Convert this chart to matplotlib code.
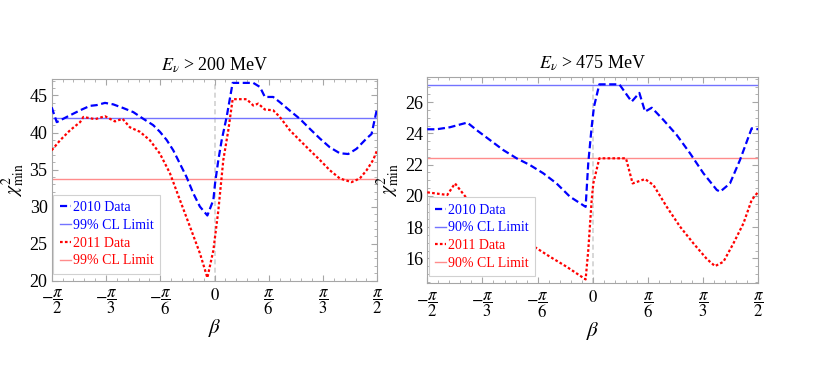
import numpy as np
import matplotlib
matplotlib.use("Agg")
import matplotlib.pyplot as plt
from matplotlib.lines import Line2D
from matplotlib.ticker import MultipleLocator

plt.rcParams["font.family"] = ["Liberation Serif", "DejaVu Serif"]
plt.rcParams["mathtext.fontset"] = "stix"

PI = np.pi

# ---- E_nu > 200 MeV (left) ----
b10_200 = [-1.571, -1.522, -1.426, -1.297, -1.201, -1.137, -1.057, -0.977, -0.880, -0.783,
           -0.687, -0.592, -0.527, -0.462, -0.398, -0.334, -0.270, -0.205, -0.141, -0.069,
           -0.011, 0.005, 0.037, 0.069, 0.117, 0.175, 0.374, 0.438, 0.486, 0.566, 0.630,
           0.727, 0.823, 0.920, 1.016, 1.113, 1.209, 1.290, 1.370, 1.467, 1.515, 1.571]
c10_200 = [43.4, 41.4, 42.1, 43.0, 43.6, 43.7, 44.0, 43.8, 43.3, 42.75,
           41.85, 41.0, 40.1, 39.0, 37.6, 35.8, 34.0, 31.8, 30.0, 28.8,
           30.9, 33.1, 36.3, 38.95, 42.1, 46.7, 46.7, 46.15, 44.8, 44.8, 44.1,
           42.95, 41.85, 40.5, 39.2, 38.0, 37.2, 37.1, 37.8, 39.2, 39.8, 43.4]

b11_200 = [-1.571, -1.490, -1.394, -1.297, -1.265, -1.152, -1.057, -0.961, -0.887, -0.816,
           -0.720, -0.623, -0.527, -0.430, -0.334, -0.237, -0.141, -0.069, -0.011, 0.037,
           0.085, 0.133, 0.175, 0.310, 0.374, 0.422, 0.486, 0.566, 0.630, 0.727, 0.823,
           0.920, 1.016, 1.113, 1.209, 1.322, 1.402, 1.467, 1.531, 1.571]
c11_200 = [37.6, 38.95, 40.3, 41.4, 42.1, 41.8, 42.2, 41.5, 41.85, 40.7,
           40.1, 38.95, 37.15, 34.5, 30.9, 27.3, 23.7, 20.4, 24.1, 29.5,
           36.3, 40.3, 44.5, 44.5, 43.65, 43.9, 43.1, 43.0, 42.1, 40.3, 38.95,
           37.6, 36.3, 34.9, 33.8, 33.3, 33.8, 34.9, 36.3, 37.7]

cl10_200 = 41.9
cl11_200 = 33.7

# ---- E_nu > 475 MeV (right) ----
b10_475 = [-1.571, -1.482, -1.356, -1.191, -1.103, -0.976, -0.850, -0.723, -0.597, -0.470,
           -0.344, -0.217, -0.068, -0.043, -0.011, 0.011, 0.062, 0.252, 0.369, 0.442,
           0.496, 0.560, 0.670, 0.797, 0.923, 1.050, 1.177, 1.209, 1.302, 1.397,
           1.508, 1.571]
c10_475 = [24.27, 24.27, 24.4, 24.7, 24.22, 23.58, 22.94, 22.41, 21.98, 21.45,
           20.8, 19.95, 19.3, 22.1, 24.4, 25.7, 27.15, 27.15, 26.04, 26.6,
           25.4, 25.65, 24.87, 23.9, 22.73, 21.45, 20.38, 20.27, 20.8, 22.3,
           24.33, 24.27]

b11_475 = [-1.571, -1.381, -1.308, -1.197, -1.103, -0.913, -0.723, -0.580, -0.406, -0.248,
           -0.068, -0.043, -0.011, 0.005, 0.062, 0.315, 0.378, 0.496, 0.575, 0.702,
           0.828, 0.955, 1.082, 1.160, 1.240, 1.335, 1.430, 1.508, 1.571]
c11_475 = [20.23, 20.06, 20.8, 19.85, 19.5, 18.67, 17.7, 16.85, 16.1, 15.46,
           14.65, 16.5, 19.7, 20.8, 22.41, 22.41, 20.8, 21.08, 20.7, 19.3,
           18.03, 16.96, 15.96, 15.5, 15.78, 16.96, 18.24, 19.74, 20.27]

cl10_475 = 27.1
cl11_475 = 22.41

x_ticks = [-PI / 2, -PI / 3, -PI / 6, 0, PI / 6, PI / 3, PI / 2]
x_labels = [r"$-\genfrac{}{}{0.6}{0}{\pi}{2}$", r"$-\genfrac{}{}{0.6}{0}{\pi}{3}$",
            r"$-\genfrac{}{}{0.6}{0}{\pi}{6}$", r"$0$",
            r"$\genfrac{}{}{0.6}{0}{\pi}{6}$", r"$\genfrac{}{}{0.6}{0}{\pi}{3}$",
            r"$\genfrac{}{}{0.6}{0}{\pi}{2}$"]

BLUE = (0.0, 0.0, 1.0)
RED = (1.0, 0.0, 0.0)
LBLUE = (0.45, 0.45, 1.0)
LRED = (1.0, 0.55, 0.55)
FRAME = "0.65"


def draw_panel(ax, title, b10, c10, b11, c11, cl10, cl11, cl_text, ylim, ymajor, yminor):
    ax.axvline(0, color="0.82", lw=1.2, ls=(0, (3, 2)), zorder=1)
    ax.axhline(cl10, color=LBLUE, lw=1.0, zorder=2)
    ax.axhline(cl11, color=LRED, lw=1.0, zorder=2)
    ax.plot(b10, c10, color=BLUE, lw=1.6, ls=(0, (3.2, 1.6)), zorder=3)
    ax.plot(b11, c11, color=RED, lw=1.6, ls=(0, (1.2, 1.0)), zorder=3)
    ax.set_xlim(-PI / 2, PI / 2)
    ax.set_ylim(*ylim)
    ax.set_xticks(x_ticks)
    ax.set_xticklabels(x_labels, fontsize=12)
    ax.xaxis.set_minor_locator(MultipleLocator(PI / 30))
    ax.yaxis.set_major_locator(MultipleLocator(ymajor))
    ax.yaxis.set_minor_locator(MultipleLocator(yminor))
    ax.tick_params(which="both", direction="in", top=True, right=True, color=FRAME, pad=3)
    ax.tick_params(axis="x", pad=5)
    ax.tick_params(axis="y", labelsize=13)
    ax.tick_params(which="major", length=4)
    ax.tick_params(which="minor", length=2)
    for s in ax.spines.values():
        s.set_color(FRAME)
    ax.set_title(title, fontsize=13, pad=6)
    ax.set_xlabel(r"$\beta$", fontsize=15, labelpad=0)
    ax.set_ylabel(r"$\chi^2_{\rm min}$", fontsize=14, labelpad=2)

    handles = [
        Line2D([], [], color=BLUE, lw=1.6, ls=(0, (3.2, 1.6))),
        Line2D([], [], color=LBLUE, lw=1.0),
        Line2D([], [], color=RED, lw=1.6, ls=(0, (1.2, 1.0))),
        Line2D([], [], color=LRED, lw=1.0),
    ]
    labels = ["2010 Data", cl_text, "2011 Data", cl_text]
    leg = ax.legend(handles, labels, loc="lower left", bbox_to_anchor=(0.005, 0.035),
                    borderaxespad=0.0, fontsize=10, handlelength=0.8, handletextpad=0.15,
                    labelspacing=0.34, borderpad=0.45, fancybox=False, framealpha=1.0,
                    edgecolor="0.82")
    leg.get_frame().set_linewidth(0.8)
    for t, c in zip(leg.get_texts(), [BLUE, BLUE, RED, RED]):
        t.set_color(c)


fig = plt.figure(figsize=(8.3, 3.92), dpi=100)
ax1 = fig.add_axes([0.0623, 0.284, 0.3923, 0.514])
ax2 = fig.add_axes([0.5148, 0.2773, 0.3988, 0.5255])

draw_panel(ax1, r"$E_\nu$ > 200 MeV", b10_200, c10_200, b11_200, c11_200,
           cl10_200, cl11_200, "99% CL Limit", (20, 47.2), 5, 1)
draw_panel(ax2, r"$E_\nu$ > 475 MeV", b10_475, c10_475, b11_475, c11_475,
           cl10_475, cl11_475, "90% CL Limit", (14.4, 27.6), 2, 0.5)

fig.savefig("out.png", dpi=100)
